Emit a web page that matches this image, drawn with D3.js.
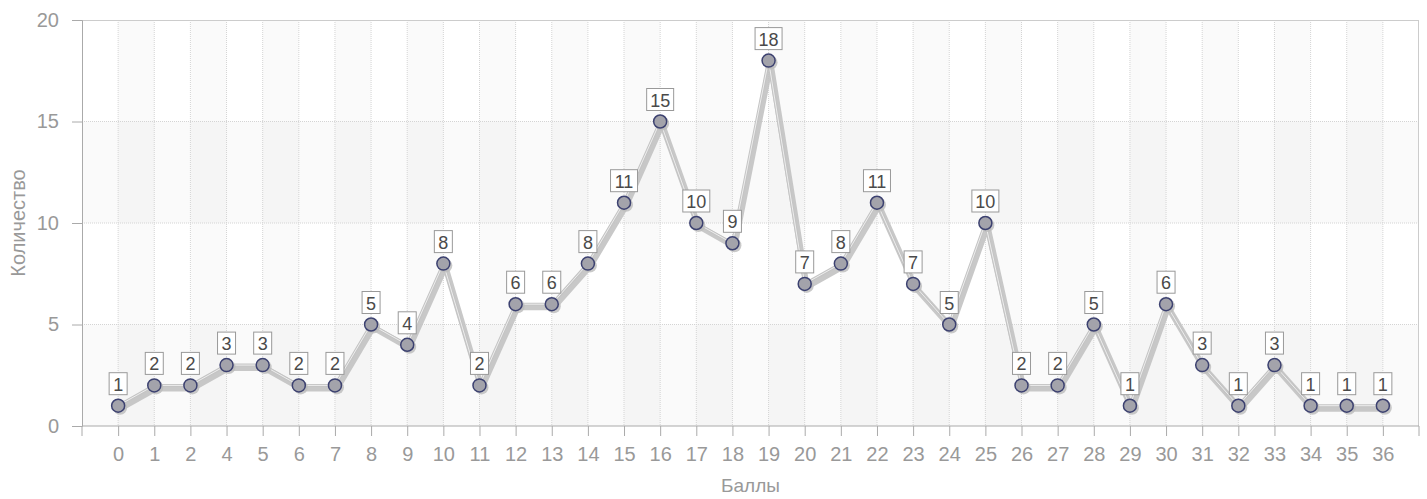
<!DOCTYPE html>
<html><head><meta charset="utf-8">
<script src="https://cdn.jsdelivr.net/npm/d3@7"></script>
<style>body{margin:0;background:#fff;}svg{display:block;font-family:"Liberation Sans",Arial,sans-serif;}</style>
</head><body>
<svg id="chart" width="1427" height="499"></svg>
<script>
const categories = ["0","1","2","4","5","6","7","8","9","10","11","12","13","14","15","16","17","18","19","20","21","22","23","24","25","26","27","28","29","30","31","32","33","34","35","36"];
const values = [1,2,2,3,3,2,2,5,4,8,2,6,6,8,11,15,10,9,18,7,8,11,7,5,10,2,2,5,1,6,3,1,3,1,1,1];
const yTicks = [0,5,10,15,20];
const xTitle = "Баллы";
const yTitle = "Количество";

const svg = d3.select("#chart");
const L = 82, R = 1419, T = 20, B = 426;
const x = d3.scalePoint().domain(categories).range([L, R]).padding(1);
const y = d3.scaleLinear().domain([0, 20]).range([B, T]);
const step = x.step();

// background bands
const bg = svg.append("g");
bg.append("rect").attr("x", L).attr("y", T).attr("width", R - L).attr("height", B - T).attr("fill", "#fff");
for (let i = 0; i < yTicks.length - 1; i++) {
  if (i % 2 === 0) bg.append("rect").attr("x", L).attr("y", y(yTicks[i+1])).attr("width", R - L)
    .attr("height", y(yTicks[i]) - y(yTicks[i+1])).attr("fill", "#000").attr("opacity", 0.02);
}
categories.forEach((c, i) => {
  if (i % 2 === 0) bg.append("rect").attr("x", x(c)).attr("y", T).attr("width", step)
    .attr("height", B - T).attr("fill", "#000").attr("opacity", 0.018);
});

// gridlines
const grid = svg.append("g").attr("stroke", "#d4d4d4").attr("stroke-dasharray", "1,1").attr("stroke-width", 1);
categories.forEach(c => grid.append("line").attr("x1", x(c)).attr("x2", x(c)).attr("y1", T).attr("y2", B));
yTicks.slice(1, -1).forEach(v => grid.append("line").attr("x1", L).attr("x2", R).attr("y1", y(v)).attr("y2", y(v)));
svg.append("line").attr("x1", L).attr("x2", R).attr("y1", T + 0.5).attr("y2", T + 0.5).attr("stroke", "#ccc");
svg.append("line").attr("x1", R - 0.5).attr("x2", R - 0.5).attr("y1", T).attr("y2", B).attr("stroke", "#ccc");

// axes
const xAxis = svg.append("g").attr("transform", `translate(0,${B})`)
  .call(d3.axisBottom(x).tickSize(10).tickPadding(11));
xAxis.select(".domain").attr("stroke", "#aaa").attr("d", `M${L},10V0H${R}V10`);
xAxis.selectAll(".tick line").attr("stroke", "#aaa");
xAxis.selectAll("text").attr("fill", "#999").attr("font-size", 20);

const yAxis = svg.append("g").attr("transform", `translate(${L},0)`)
  .call(d3.axisLeft(y).tickValues(yTicks).tickSize(10).tickPadding(13));
yAxis.select(".domain").attr("stroke", "#aaa");
yAxis.selectAll(".tick line").attr("stroke", "#aaa");
yAxis.selectAll("text").attr("fill", "#999").attr("font-size", 20);

svg.append("text").attr("x", (L + R) / 2).attr("y", 492).attr("text-anchor", "middle")
  .attr("fill", "#999").attr("font-size", 19).text(xTitle);
svg.append("text").attr("transform", `translate(25,${(T + B) / 2}) rotate(-90)`).attr("text-anchor", "middle")
  .attr("fill", "#999").attr("font-size", 20).text(yTitle);

// line
const data = categories.map((c, i) => ({c, v: values[i]}));
const line = d3.line().x(d => x(d.c)).y(d => y(d.v));
svg.append("path").datum(data).attr("d", line).attr("fill", "none").attr("stroke", "#c2c2c2")
  .attr("stroke-width", 6).attr("stroke-linejoin", "round").attr("transform", "translate(2,3)").attr("opacity", 0.9);
svg.append("path").datum(data).attr("d", line).attr("fill", "none").attr("stroke", "#c4c4c4")
  .attr("stroke-width", 3).attr("stroke-linejoin", "round");
svg.append("path").datum(data).attr("d", line).attr("fill", "none").attr("stroke", "#ededed")
  .attr("stroke-width", 1).attr("stroke-linejoin", "round");

// points
const pts = svg.append("g");
pts.selectAll(".sh").data(data).join("circle").attr("cx", d => x(d.c) + 2).attr("cy", d => y(d.v) + 2)
  .attr("r", 7).attr("fill", "#bbb").attr("opacity", 0.8);
pts.selectAll(".pt").data(data).join("circle").attr("cx", d => x(d.c)).attr("cy", d => y(d.v))
  .attr("r", 6.5).attr("fill", "#a3a3ab").attr("stroke", "#3c4170").attr("stroke-width", 1.5);

// labels
const lab = svg.append("g");
data.forEach(d => {
  const s = String(d.v);
  const w = s.length === 1 ? 18 : 27, h = 22;
  const cx = x(d.c), by = y(d.v) - 11;
  lab.append("rect").attr("x", cx - w / 2).attr("y", by - h).attr("width", w).attr("height", h)
    .attr("fill", "#fff").attr("stroke", "#999").attr("stroke-width", 1);
  lab.append("text").attr("x", cx).attr("y", by - 4).attr("text-anchor", "middle")
    .attr("fill", "#4a4a4a").attr("font-size", 18).text(s);
});
</script>
</body></html>
